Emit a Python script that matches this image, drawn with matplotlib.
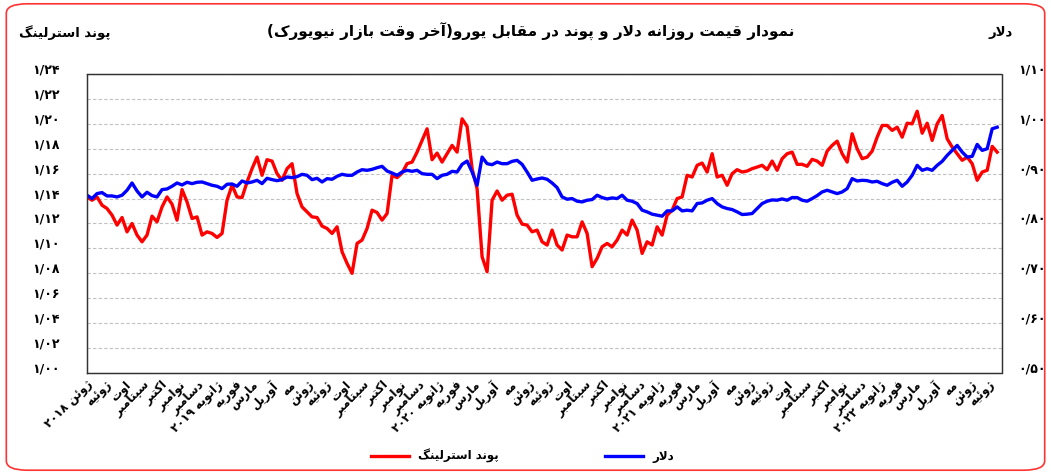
import re
import matplotlib
matplotlib.use("Agg")
import matplotlib.pyplot as plt
import matplotlib.transforms as mtransforms
from matplotlib.patches import FancyBboxPatch
import pandas as pd

# euro per pound sterling, sampled every ~8 days, jun 2018 .. jul 2022
pound = [
    1.1413, 1.1387, 1.1413, 1.1347, 1.1320, 1.1267, 1.1187, 1.1248, 1.1133, 1.1200,
    1.1107, 1.1053, 1.1107, 1.1259, 1.1213, 1.1333, 1.1413, 1.1355, 1.1227, 1.1472,
    1.1373, 1.1240, 1.1253, 1.1107, 1.1133, 1.1120, 1.1088, 1.1120, 1.1387, 1.1507,
    1.1413, 1.1408, 1.1533, 1.1640, 1.1733, 1.1587, 1.1712, 1.1701, 1.1600, 1.1547,
    1.1640, 1.1680, 1.1440, 1.1333, 1.1293,
    1.1253, 1.1248, 1.1179, 1.1160, 1.1120, 1.1173, 1.0973, 1.0880, 1.0800, 1.1040,
    1.1067, 1.1160, 1.1307, 1.1288, 1.1227, 1.1280, 1.1587, 1.1568, 1.1605, 1.1680,
    1.1693, 1.1773, 1.1867, 1.1960, 1.1712, 1.1765, 1.1693, 1.1760, 1.1827, 1.1773,
    1.2040, 1.1979, 1.1640, 1.1480, 1.0933, 1.0813, 1.1387, 1.1461, 1.1387, 1.1427,
    1.1435, 1.1267, 1.1195, 1.1187, 1.1133,
    1.1147, 1.1053, 1.1027, 1.1147, 1.1027, 1.0987, 1.1107, 1.1093, 1.1093, 1.1213,
    1.1120, 1.0853, 1.0920, 1.1013, 1.1040, 1.1013, 1.1067, 1.1147, 1.1107, 1.1227,
    1.1147, 1.0960, 1.1053, 1.1027, 1.1173, 1.1107, 1.1267, 1.1307, 1.1400, 1.1413,
    1.1587, 1.1573, 1.1667, 1.1685, 1.1613, 1.1760, 1.1573, 1.1587, 1.1507, 1.1600,
    1.1632, 1.1613, 1.1621, 1.1640, 1.1653, 1.1667,
    1.1632, 1.1701, 1.1627, 1.1720, 1.1760, 1.1773, 1.1675, 1.1675, 1.1659, 1.1715,
    1.1701, 1.1667, 1.1781, 1.1827, 1.1861, 1.1760, 1.1693, 1.1920, 1.1800, 1.1720,
    1.1733, 1.1781, 1.1893, 1.1987, 1.1987, 1.1947, 1.1973, 1.1893, 1.2005, 1.2000,
    1.2101, 1.1925, 1.2005, 1.1867, 1.2000, 1.2067, 1.1880, 1.1813, 1.1760, 1.1707,
    1.1733, 1.1680, 1.1547, 1.1613, 1.1627, 1.1819, 1.1773,
]

# euro per us dollar, same dates
dollar = [
    0.8567, 0.8500, 0.8600, 0.8620, 0.8553, 0.8553, 0.8533, 0.8567, 0.8667, 0.8813,
    0.8653, 0.8533, 0.8627, 0.8560, 0.8533, 0.8680, 0.8693, 0.8747, 0.8813, 0.8773,
    0.8827, 0.8800, 0.8827, 0.8833, 0.8800, 0.8767, 0.8747, 0.8700, 0.8787, 0.8793,
    0.8747, 0.8853, 0.8813, 0.8833, 0.8867, 0.8800, 0.8907, 0.8880, 0.8860, 0.8880,
    0.8933, 0.8920, 0.8940, 0.8987, 0.8967,
    0.8880, 0.8907, 0.8833, 0.8900, 0.8887, 0.8947, 0.8987, 0.8967, 0.8967, 0.9033,
    0.9080, 0.9067, 0.9087, 0.9120, 0.9147, 0.9053, 0.9013, 0.8967, 0.9033, 0.9067,
    0.9047, 0.9067, 0.9000, 0.8987, 0.8987, 0.8900, 0.8967, 0.8987, 0.9047, 0.9033,
    0.9187, 0.9253, 0.9033, 0.8767, 0.9333, 0.9200, 0.9180, 0.9233, 0.9200, 0.9200,
    0.9247, 0.9267, 0.9187, 0.9033, 0.8867,
    0.8893, 0.8913, 0.8887, 0.8813, 0.8720, 0.8533, 0.8487, 0.8500, 0.8447, 0.8433,
    0.8467, 0.8480, 0.8567, 0.8520, 0.8493, 0.8513, 0.8500, 0.8567, 0.8467, 0.8447,
    0.8400, 0.8267, 0.8233, 0.8187, 0.8167, 0.8147, 0.8253, 0.8253, 0.8333, 0.8253,
    0.8267, 0.8253, 0.8400, 0.8413, 0.8467, 0.8500, 0.8400, 0.8333, 0.8300, 0.8280,
    0.8233, 0.8180, 0.8187, 0.8200, 0.8300, 0.8400,
    0.8447, 0.8473, 0.8467, 0.8493, 0.8467, 0.8520, 0.8520, 0.8467, 0.8447, 0.8500,
    0.8560, 0.8633, 0.8667, 0.8633, 0.8600, 0.8633, 0.8700, 0.8900, 0.8853, 0.8867,
    0.8860, 0.8833, 0.8847, 0.8800, 0.8767, 0.8827, 0.8867, 0.8747, 0.8833, 0.8967,
    0.9167, 0.9067, 0.9100, 0.9067, 0.9167, 0.9247, 0.9367, 0.9467, 0.9567, 0.9433,
    0.9333, 0.9347, 0.9587, 0.9467, 0.9500, 0.9900, 0.9933,
]

start_date = "2018-06-01"
end_date = "2022-07-15"

month_names = ["ژانویه", "فوریه", "مارس", "آوریل", "مه", "ژوئن",
               "ژوئیه", "اوت", "سپتامبر", "اکتبر", "نوامبر", "دسامبر"]

pound_ticks = [1.00, 1.02, 1.04, 1.06, 1.08, 1.10, 1.12, 1.14, 1.16, 1.18, 1.20, 1.22, 1.24]
dollar_ticks = [0.50, 0.60, 0.70, 0.80, 0.90, 1.00, 1.10]

title = "نمودار قیمت روزانه دلار و پوند در مقابل یورو(آخر وقت بازار نیویورک)"
pound_name = "پوند استرلینگ"
dollar_name = "دلار"


# --- minimal persian shaping (matplotlib has no bidi / joining) ---
FORMS = {
    "ا": "\uFE8D\uFE8E", "آ": "\uFE81\uFE82", "د": "\uFEA9\uFEAA",
    "ذ": "\uFEAB\uFEAC", "ر": "\uFEAD\uFEAE", "ز": "\uFEAF\uFEB0",
    "ژ": "\uFB8A\uFB8B", "و": "\uFEED\uFEEE",
    "ب": "\uFE8F\uFE90\uFE91\uFE92", "پ": "\uFB56\uFB57\uFB58\uFB59",
    "ت": "\uFE95\uFE96\uFE97\uFE98", "خ": "\uFEA5\uFEA6\uFEA7\uFEA8",
    "س": "\uFEB1\uFEB2\uFEB3\uFEB4", "ف": "\uFED1\uFED2\uFED3\uFED4",
    "ق": "\uFED5\uFED6\uFED7\uFED8", "ک": "\uFB8E\uFB8F\uFB90\uFB91",
    "گ": "\uFB92\uFB93\uFB94\uFB95", "ل": "\uFEDD\uFEDE\uFEDF\uFEE0",
    "م": "\uFEE1\uFEE2\uFEE3\uFEE4", "ن": "\uFEE5\uFEE6\uFEE7\uFEE8",
    "ه": "\uFEE9\uFEEA\uFEEB\uFEEC", "ی": "\uFBFC\uFBFD\uFBFE\uFBFF",
    "ئ": "\uFE89\uFE8A\uFE8B\uFE8C",
}
LAM_ALEF = {"ا": "\uFEFB\uFEFC", "آ": "\uFEF5\uFEF6"}


def shape(text):
    out = []
    prev = ""
    i = 0
    while i < len(text):
        c = text[i]
        nxt = text[i + 1] if i + 1 < len(text) else ""
        pj = prev in FORMS and len(FORMS[prev]) == 4
        if c == "ل" and nxt in LAM_ALEF:
            out.append(LAM_ALEF[nxt][1 if pj else 0])
            prev = nxt
            i += 2
            continue
        if c in FORMS:
            f = FORMS[c]
            if len(f) == 2:
                out.append(f[1] if pj else f[0])
            else:
                nj = nxt in FORMS
                out.append(f[[0, 2, 1, 3][pj * 2 + nj]])
        else:
            out.append(c)
        prev = c
        i += 1
    return "".join(out)


def rtl(text):
    tokens = re.findall(r"[0-9\u06F0-\u06F9]+|.", shape(text))
    mirror = {"(": ")", ")": "("}
    return "".join(mirror.get(t, t) for t in reversed(tokens))


def fa_digits(s):
    return s.translate(str.maketrans("0123456789", "۰۱۲۳۴۵۶۷۸۹"))


plt.rcParams["font.family"] = ["DejaVu Sans"]

dates = pd.date_range(start_date, end_date, periods=len(pound))
months = pd.date_range("2018-06-01", "2022-07-01", freq="MS")
month_labels = []
for i, m in enumerate(months):
    name = month_names[m.month - 1]
    if i == 0 or m.month == 1:
        name = name + " " + fa_digits(str(m.year))
    month_labels.append(rtl(name))

fig = plt.figure(figsize=(10.51, 4.74), dpi=100)
ax = fig.add_axes([0.0828, 0.2131, 0.8706, 0.6308])
ax2 = ax.twinx()

ax.plot(dates, pound, color="#ff0000", lw=2.4, label=rtl(pound_name))
ax2.plot(dates, dollar, color="#0000ff", lw=2.4, label=rtl(dollar_name))

ax.set_ylim(1.00, 1.24)
ax2.set_ylim(0.50, 1.10)
ax.set_xlim(dates[0], dates[-1] + pd.Timedelta(days=8))

ax.set_yticks(pound_ticks)
ax.set_yticklabels([fa_digits(f"{v:.2f}".replace(".", "/")) for v in pound_ticks],
                   fontsize=9, fontweight="bold")
ax2.set_yticks(dollar_ticks)
ax2.set_yticklabels([fa_digits(f"{v:.2f}".replace(".", "/")) for v in dollar_ticks],
                    fontsize=9, fontweight="bold")
ax.tick_params(axis="y", length=0, pad=20)
ax2.tick_params(axis="y", length=0, pad=12)
up = mtransforms.ScaledTranslation(0, 4 / 72, fig.dpi_scale_trans)
for lab in ax.get_yticklabels() + ax2.get_yticklabels():
    lab.set_transform(lab.get_transform() + up)

ax.set_xticks(months)
ax.set_xticklabels(month_labels, rotation=45, ha="right", va="top",
                   rotation_mode="anchor", fontsize=8.5, fontweight="bold")
ax.tick_params(axis="x", length=0, pad=4)

ax.grid(axis="y", color="#c0c0c0", linestyle=(0, (3, 2)), lw=0.8)
ax.set_axisbelow(True)
for a in (ax, ax2):
    for s in a.spines.values():
        s.set_linestyle((0, (1, 1)))
        s.set_color("#333333")
        s.set_linewidth(0.9)

fig.text(0.505, 0.932, rtl(title), ha="center", va="center",
         fontsize=11, fontweight="bold")
fig.text(0.062, 0.932, rtl(pound_name), ha="center", va="center",
         fontsize=9.5, fontweight="bold")
fig.text(0.952, 0.932, rtl(dollar_name), ha="center", va="center",
         fontsize=9.5, fontweight="bold")

h1, l1 = ax.get_legend_handles_labels()
h2, l2 = ax2.get_legend_handles_labels()
fig.legend(h1 + h2, l1 + l2, loc="center", bbox_to_anchor=(0.497, 0.038),
           ncol=2, frameon=False, handlelength=3.2, columnspacing=9,
           prop={"size": 8.5, "weight": "bold"})

border = FancyBboxPatch((0.006, 0.008), 0.988, 0.984,
                        boxstyle="round,pad=0,rounding_size=0.02",
                        transform=fig.transFigure, fill=False,
                        edgecolor="#ff3333", lw=1.2)
fig.patches.append(border)

fig.savefig("out.png", dpi=100)
